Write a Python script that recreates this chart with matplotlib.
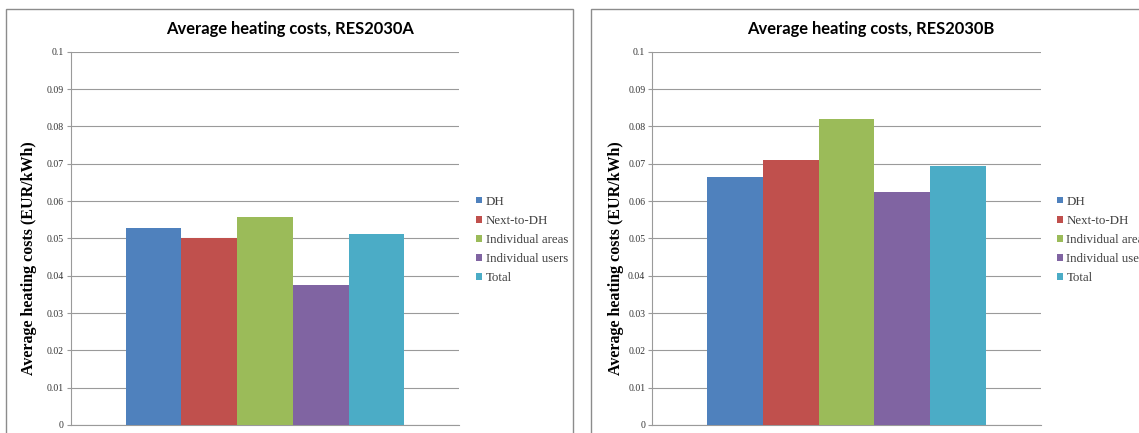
import matplotlib
matplotlib.use("Agg")
import matplotlib.pyplot as plt
from matplotlib.patches import Rectangle

# Average heating cost per area type (EUR/kWh)
categories = ["DH", "Next-to-DH", "Individual areas", "Individual users", "Total"]
costs_a = [0.0529, 0.0500, 0.0558, 0.0374, 0.0512]
costs_b = [0.0664, 0.0709, 0.0821, 0.0623, 0.0695]
titles = ["Average heating costs, RES2030A", "Average heating costs, RES2030B"]
y_ticks = [0, 0.01, 0.02, 0.03, 0.04, 0.05, 0.06, 0.07, 0.08, 0.09, 0.1]
y_tick_labels = ["0", "0.01", "0.02", "0.03", "0.04", "0.05", "0.06", "0.07", "0.08", "0.09", "0.1"]

colors = ["#4F81BD", "#C0504D", "#9BBB59", "#8064A2", "#4BACC6"]
grid_color = "#9a9a9a"
W, H = 1139, 433

fig = plt.figure(figsize=(W / 100, H / 100), dpi=100)

# chart frames
fig.add_artist(Rectangle((6 / W, -0.1), (572.7 - 6) / W, 1.1 - 9 / H,
                         transform=fig.transFigure, fill=False,
                         edgecolor="#8c8c8c", linewidth=1.0))
fig.add_artist(Rectangle((591 / W, -0.1), 0.6, 1.1 - 9 / H,
                         transform=fig.transFigure, fill=False,
                         edgecolor="#8c8c8c", linewidth=1.0))

panels = [
    dict(values=costs_a, ax_left=70.7, title_x=290, ylabel_x=29, legend_x=476),
    dict(values=costs_b, ax_left=652.3, title_x=871, ylabel_x=615.6, legend_x=1056.7),
]

bar_w = 0.1435
ax_w = 388.5
ax_bottom, ax_top = 425, 51.7

for p, title in zip(panels, titles):
    ax = fig.add_axes([p["ax_left"] / W, 1 - ax_bottom / H,
                       ax_w / W, (ax_bottom - ax_top) / H])
    handles = []
    for i, (cat, val) in enumerate(zip(categories, p["values"])):
        b = ax.bar((i - 2) * bar_w, val, width=bar_w, color=colors[i],
                   label=cat, zorder=3, linewidth=0)
        handles.append(b)

    ax.set_xlim(-0.5, 0.5)
    ax.set_ylim(0, 0.1)
    ax.set_yticks(y_ticks)
    ax.set_yticklabels(y_tick_labels, family="Liberation Serif", fontsize=7,
                       color="#333333")
    ax.set_xticks([])
    ax.tick_params(axis="y", length=3, width=0.8, color=grid_color, pad=2)
    ax.yaxis.grid(True, color=grid_color, linewidth=0.8, zorder=0)
    for side in ["top", "right"]:
        ax.spines[side].set_visible(False)
    ax.spines["left"].set_color(grid_color)
    ax.spines["bottom"].set_color(grid_color)
    ax.spines["left"].set_linewidth(0.8)
    ax.spines["bottom"].set_linewidth(0.8)

    fig.text(p["title_x"] / W, 1 - 29.3 / H, title, ha="center", va="center",
             family="Lato", fontweight="bold", fontsize=11.9, color="black")
    fig.text(p["ylabel_x"] / W, 1 - 258 / H, "Average heating costs (EUR/kWh)",
             rotation=90, ha="center", va="center", family="Liberation Serif",
             fontweight="bold", fontsize=11.5, color="black")

    ax.legend(handles=handles, loc="center left",
              bbox_to_anchor=(p["legend_x"] / W, 1 - 239.8 / H),
              bbox_transform=fig.transFigure, frameon=False,
              prop={"family": "Liberation Serif", "size": 9.3},
              labelcolor="#404040", handlelength=0.45, handleheight=0.45,
              handletextpad=0.3, labelspacing=0.55, borderpad=0,
              borderaxespad=0)

fig.savefig("out.png", dpi=100)
